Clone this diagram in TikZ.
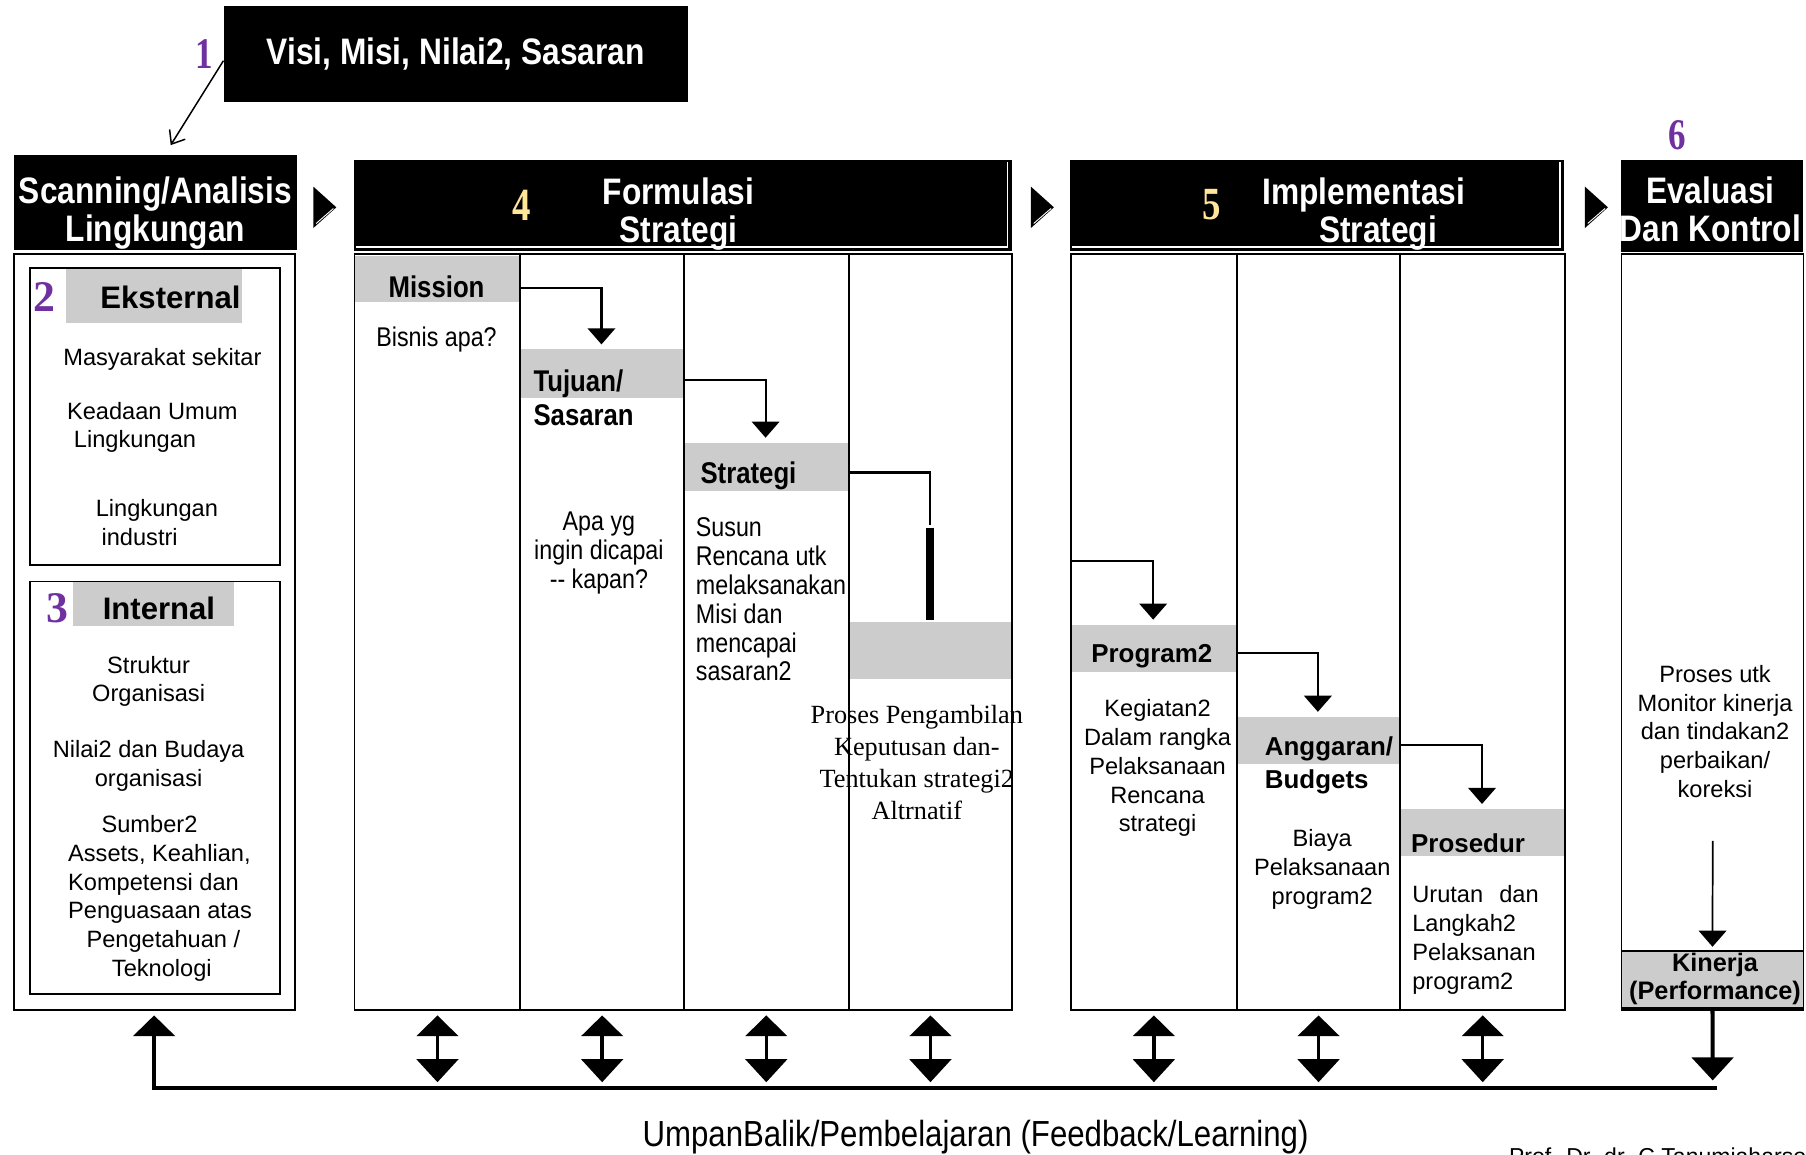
\documentclass[tikz,border=0pt]{standalone}
\usepackage{fontspec}
\setmainfont{Liberation Sans}
\newfontfamily\narrowsf[FakeStretch=0.86]{Liberation Sans}
\newfontfamily\serifface{Liberation Serif}
\newfontfamily\narrowserif[FakeStretch=0.8]{Liberation Serif}
\usepackage{tikz}
\usetikzlibrary{positioning,arrows.meta,calc}
\definecolor{bandgrey}{HTML}{CCCCCC}
\definecolor{purp}{HTML}{7030A0}
\definecolor{gold}{HTML}{FFE699}
\tikzset{
  blk/.style={fill=black, inner sep=0pt, anchor=north west},
  htxt/.style={text=white, align=center, inner sep=0pt,
               font=\narrowsf\bfseries\fontsize{32}{33}\selectfont},
  col/.style={draw=black, line width=1.6pt, inner sep=0pt, anchor=north west,
              minimum height=656pt},
  boxline/.style={draw=black, line width=1.6pt, inner sep=0pt, anchor=north west},
  band/.style={fill=bandgrey, inner sep=0pt, anchor=north west},
  txt/.style={inner sep=0pt, align=center, font=\fontsize{20.5}{25}\selectfont},
  ntxt/.style={inner sep=0pt, align=center, font=\narrowsf\fontsize{23.5}{25}\selectfont},
  bhd/.style={inner sep=0pt, align=left, font=\bfseries\fontsize{22.5}{29}\selectfont},
  nbhd/.style={inner sep=0pt, align=left, font=\narrowsf\bfseries\fontsize{26}{29}\selectfont},
  shd/.style={inner sep=0pt, font=\bfseries\fontsize{27}{30}\selectfont},
  stxt/.style={inner sep=0pt, align=center, font=\serifface\fontsize{22.8}{27.7}\selectfont},
  num/.style={inner sep=0pt, text=purp, font=\serifface\bfseries\fontsize{38}{38}\selectfont},
  nnum/.style={num, font=\narrowserif\bfseries\fontsize{38}{38}\selectfont},
  gnum/.style={inner sep=0pt, text=gold, font=\narrowserif\bfseries\fontsize{40}{40}\selectfont},
  flow/.style={-{Triangle[length=14pt,width=24pt]}, line width=1.8pt, shorten >=4pt},
  dbl/.style={{Triangle[length=18pt,width=36pt]}-{Triangle[length=20pt,width=36pt]}, line width=3pt},
  fbk/.style={line width=3.5pt},
}
\begin{document}
\begin{tikzpicture}[x=1pt,y=-1pt]
\useasboundingbox (0,0) rectangle (1568,1002);

% --- 1: visi ---
\node[blk, htxt, minimum width=403pt, minimum height=83pt] (visi) at (194,5) {Visi, Misi, Nilai2, Sasaran};
\node[nnum] (n1) [left=9pt of visi] {1};

% --- headers ---
\node[blk, minimum width=246pt, minimum height=83pt] (scanH) at (12,134) {};
\node[htxt] (scanT) at (135,185) {Scanning/Analisis\\Lingkungan};
\draw[line width=1.3pt, -{Straight Barb[length=10pt,width=16pt]}] ([yshift=-6pt]visi.west) -- ([xshift=13pt,yshift=8pt]scanH.north);

\node[blk, minimum width=571pt, minimum height=79pt] (formH) at (307,139) {};
\draw[white, line width=1pt] ([xshift=2pt,yshift=4pt]formH.south west) -- ([xshift=-4pt,yshift=4pt]formH.south east) -- ([xshift=-4pt,yshift=-2pt]formH.north east);
\node[gnum] (n4) at (453,178) {4};
\node[htxt] (formT) at (589,186) {Formulasi\\Strategi};

\node[blk, minimum width=429pt, minimum height=79pt] (implH) at (929,139) {};
\draw[white, line width=1pt] ([xshift=2pt,yshift=4pt]implH.south west) -- ([xshift=-4pt,yshift=4pt]implH.south east) -- ([xshift=-4pt,yshift=-2pt]implH.north east);
\node[gnum] (n5) at (1052,178) {5};
\node[htxt, align=left, anchor=west] (implT) at (1096,186) {Implementasi\\\hspace*{49pt}Strategi};

\node[blk, minimum width=158pt, minimum height=80pt] (evalH) at (1407,139) {};
\node[htxt] (evalT) at (1485,182) {Evaluasi\\Dan Kontrol};
\node[nnum] (n6) at (1456,117) {6};

\foreach \cx in {272,895,1376} {
  \fill (\cx,162) -- ++(20,18) -- ++(-20,18) -- cycle;
  \draw[white, line width=0.8pt] (\cx+2.5,194) -- ++(15,-13);
}

% --- scanning ---
\node[col, minimum width=244pt] (sc) at (11,220) {};
\node[band, minimum width=153pt, minimum height=48pt] (extB) at (57,232) {};
\node[boxline, minimum width=217pt, minimum height=258pt] (ext) at (25,232) {};
\node[num] (n2) at (39,258) {2};
\node[shd] (extT) at (148,258) {Eksternal};
\node[txt] (ext1) at (141,312) {Masyarakat sekitar};
\node[txt, align=left, anchor=west] (ext2) at (58,371) {Keadaan Umum\\\hspace*{6pt}Lingkungan};
\node[txt, align=left, anchor=west] (ext3) at (83,453.5) {Lingkungan\\\hspace*{5pt}industri};

\node[band, minimum width=140pt, minimum height=39pt] (intB) at (63,504) {};
\node[boxline, minimum width=217pt, minimum height=358pt] (int) at (25,504) {};
\node[num] (n3) at (50,528) {3};
\node[shd] (intT) at (138,528) {Internal};
\node[txt] (int1) at (129,591.5) {Struktur\\Organisasi};
\node[txt] (int2) at (129,665) {Nilai2 dan Budaya\\organisasi};
\node[txt, align=left, anchor=west] (int3) at (59,780) {\hspace*{29pt}Sumber2\\Assets, Keahlian,\\Kompetensi dan\\Penguasaan atas\\\hspace*{16pt}Pengetahuan /\\\hspace*{38pt}Teknologi};

% --- formulasi ---
\node[band, minimum width=144pt, minimum height=40pt] (mission) at (307,222) {};
\node[band, minimum width=142pt, minimum height=42pt] (tujuan) at (451,303) {};
\node[band, minimum width=143pt, minimum height=42pt] (strat) at (593,384) {};
\node[band, minimum width=142pt, minimum height=49pt] (alt) at (736,540) {};
\node[col, minimum width=144pt] (f1) at (307,220) {};
\node[col, minimum width=142pt] (f2) at (451,220) {};
\node[col, minimum width=143pt] (f3) at (593,220) {};
\node[col, minimum width=142pt] (f4) at (736,220) {};

\node[nbhd] (missionT) at (379,249) {Mission};
\node[ntxt] (missionD) at (379,295) {Bisnis apa?};
\node[nbhd, anchor=west] (tujuanT) at (463,345.5) {Tujuan/\\Sasaran};
\node[ntxt] (tujuanD) at (520,480) {Apa yg\\ingin dicapai\\-{}- kapan?};
\node[nbhd, anchor=west] (stratT) at (608,413) {Strategi};
\node[ntxt, align=left, anchor=west] (stratD) at (604,520.5) {Susun\\Rencana utk\\melaksanakan\\Misi dan\\mencapai\\sasaran2};
\node[stxt] (altD) at (796,662) {Proses Pengambilan\\Keputusan dan-\\Tentukan strategi2\\Altrnatif};

\draw[flow] ([yshift=-8pt]mission.east) -| (tujuan.north);
\draw[flow] ([yshift=-6pt]tujuan.east) -| (strat.north);
\draw[line width=1.8pt] ([yshift=-5pt]strat.east) -| ($(alt.north)+(0,-84)$);
\draw[line width=7pt] ($(alt.north)+(0,-82)$) -- ($(alt.north)+(0,-2)$);

% --- implementasi ---
\node[band, minimum width=144pt, minimum height=41pt] (prog) at (929,542) {};
\node[band, minimum width=142pt, minimum height=41pt] (angg) at (1073,622) {};
\node[band, minimum width=143pt, minimum height=41pt] (pros) at (1215,702) {};
\node[col, minimum width=144pt] (i1) at (929,220) {};
\node[col, minimum width=142pt] (i2) at (1073,220) {};
\node[col, minimum width=143pt] (i3) at (1215,220) {};

\node[bhd] (progT) at (1000,570) {Program2};
\node[txt] (progD) at (1005,667) {Kegiatan2\\Dalam rangka\\Pelaksanaan\\Rencana\\strategi};
\node[bhd, anchor=west] (anggT) at (1098,664.5) {Anggaran/\\Budgets};
\node[txt] (anggD) at (1148,755) {Biaya\\Pelaksanaan\\program2};
\node[bhd, anchor=west] (prosT) at (1225,732) {Prosedur};
\node[txt, align=left, anchor=west] (prosD) at (1226,816) {Urutan\hspace{14pt}dan\\Langkah2\\Pelaksanan\\program2};

\coordinate (progIn) at (929,487);
\draw[flow] (progIn) -| (prog.north);
\draw[flow] ([yshift=-4pt]prog.east) -| (angg.north);
\draw[flow] ([yshift=-4pt]angg.east) -| (pros.north);

% --- evaluasi ---
\node[col, minimum width=158pt] (ev) at (1407,220) {};
\node[band, draw=black, line width=1.6pt, minimum width=158pt, minimum height=49pt] (kin) at (1407,825) {};
\node[txt] (evD) at (1489,635) {Proses utk\\Monitor kinerja\\dan tindakan2\\perbaikan/\\koreksi};
\node[bhd, align=center, font=\bfseries\fontsize{22}{24}\selectfont] (kinT) at (1489,850) {Kinerja\\(Performance)};
\coordinate (monTop) at (1487,730);
\draw[flow, line width=1.5pt, shorten >=3pt] (monTop) -- (kin.north);

% --- feedback ---
\coordinate (fbR) at (1491,945);
\coordinate (kinEnd) at (1487,938);
\foreach \c in {f1,f2,f3,f4,i1,i2,i3}
  \draw[dbl] ([yshift=-4pt]\c.south) -- ([yshift=-62pt]\c.south);
\draw[fbk, {Triangle[length=18pt,width=36pt]}-] ([yshift=-4pt]sc.south) |- (fbR);
\draw[fbk, -{Triangle[length=20pt,width=36pt]}] (kin.south) -- (kinEnd);

\node[inner sep=0pt, font=\narrowsf\fontsize{31.5}{33}\selectfont] (fbT) at (847,987) {UmpanBalik/Pembelajaran (Feedback/Learning)};
\node[inner sep=0pt, anchor=base west, font=\fontsize{20}{24}\selectfont] (prof) at (1310,1011) {Prof. Dr. dr. C Tanumiaharso};

\end{tikzpicture}
\end{document}
